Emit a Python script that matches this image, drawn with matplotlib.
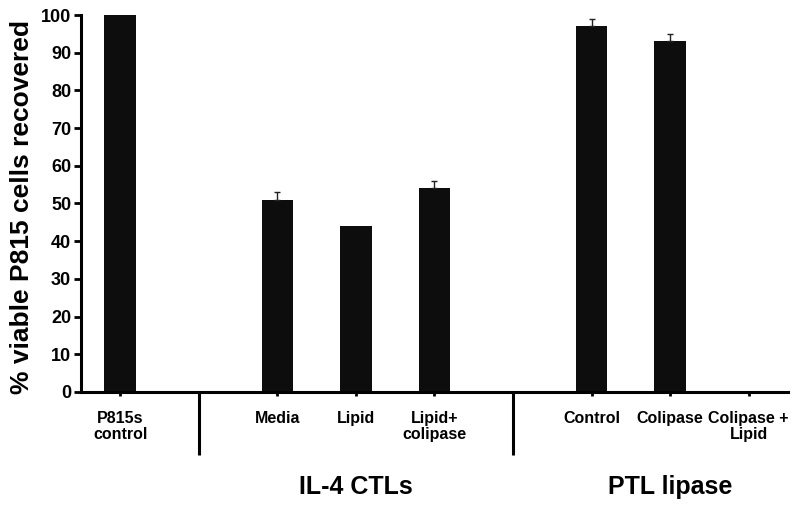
import matplotlib
matplotlib.use("Agg")
from matplotlib import pyplot as plt
from matplotlib import transforms

# data
labels = ["P815s\ncontrol", "Media", "Lipid", "Lipid+\ncolipase",
          "Control", "Colipase", "Colipase +\nLipid"]
values = [100, 51, 44, 54, 97, 93, 0]
errors = [0, 2, 0, 2, 2, 2, 0]
group_names = ["", "IL-4 CTLs", "PTL lipase"]
group_sizes = [1, 3, 3]
yticks = [0, 10, 20, 30, 40, 50, 60, 70, 80, 90, 100]

plt.rcParams['font.family'] = ['Liberation Sans', 'DejaVu Sans']
plt.rcParams['font.weight'] = 'bold'

# one empty category slot between groups, like the Excel original
pos = []
seps = []
group_mid = []
slot = 0
for gi, size in enumerate(group_sizes):
    start = slot
    for k in range(size):
        pos.append(slot)
        slot += 1
    group_mid.append((start + slot - 1) / 2)
    if gi < len(group_sizes) - 1:
        seps.append(slot)
        slot += 1

fig = plt.figure(figsize=(8, 5.09), dpi=100)
ax = fig.add_axes([0.101, 0.2299, 0.884, 0.7406])

ax.bar(pos, values, width=0.4, color="#0d0d0d", zorder=2)

# only the bars that have an error value get a whisker (upper side only)
ep = [p for p, e in zip(pos, errors) if e > 0]
ev = [v for v, e in zip(values, errors) if e > 0]
ee = [e for e in errors if e > 0]
ax.errorbar(ep, ev, yerr=[[0] * len(ee), ee], fmt="none",
            ecolor="#222222", elinewidth=1.0, capsize=2, capthick=1.0, zorder=3)

ax.set_xlim(-0.5, slot - 0.5)
ax.set_ylim(0, 100)
ax.set_yticks(yticks)
ax.set_xticks(pos)
ax.set_xticklabels(labels, fontsize=11.5, fontweight='bold', linespacing=1.05)
ax.tick_params(axis='x', direction='out', length=3, width=2, pad=11)
ax.tick_params(axis='y', direction='out', length=5, width=2, pad=2,
               labelsize=13)
for t in ax.get_yticklabels():
    t.set_fontweight('bold')

for side in ['top', 'right']:
    ax.spines[side].set_visible(False)
for side in ['left', 'bottom']:
    ax.spines[side].set_linewidth(2.2)

ax.set_ylabel("% viable P815 cells recovered", fontsize=19, fontweight='bold')
ax.yaxis.set_label_coords(-0.066, 0.49)

trans = transforms.blended_transform_factory(ax.transData, ax.transAxes)
for s in seps:
    ax.plot([s, s], [0, -0.167], color="black", lw=2.2, transform=trans,
            clip_on=False, solid_capstyle='butt')

for name, mid in zip(group_names, group_mid):
    if name:
        ax.text(mid, -0.252, name, transform=trans, ha='center', va='center',
                fontsize=18, fontweight='bold')

fig.savefig("out.png", dpi=100)
